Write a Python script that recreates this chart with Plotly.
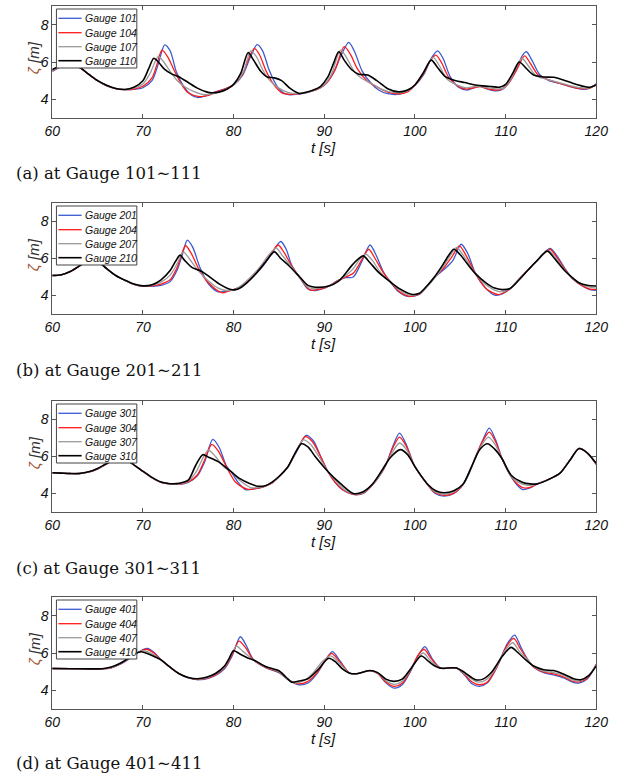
import plotly.graph_objects as go

# ---------------- data ----------------
# Panel (a) gauges 101,104,107,110
a101_t = [60,61,62,63,64,65,66,67,68,69,70,71,71.7,72.4,73,73.7,74.5,75.3,76,77,78,79,80,81,81.8,82.6,83.2,83.9,84.8,85.5,86.2,87,88,89,90,91,91.9,92.7,93.3,94.2,95.2,96,97,98.3,99,100,101,101.8,102.5,103.1,103.9,104.8,105.8,106.5,107.2,108,108.8,109.5,110.3,111.2,111.8,112.3,112.9,113.8,114.8,116,117,118.5,119.3,120]
a101_z = [5.5,5.75,5.85,5.7,5.35,5.0,4.72,4.57,4.52,4.53,4.62,5.0,5.9,6.92,6.6,5.45,4.7,4.25,4.1,4.2,4.4,4.55,4.77,5.3,6.2,6.93,6.6,5.6,4.7,4.35,4.24,4.27,4.35,4.5,4.75,5.4,6.4,7.05,6.6,5.5,4.85,4.5,4.3,4.28,4.4,4.75,5.35,6.2,6.6,6.2,5.2,4.65,4.5,4.62,4.7,4.55,4.46,4.5,4.85,5.6,6.3,6.55,6.1,5.3,5.0,4.85,4.7,4.54,4.6,4.83]
a104_t = [60,61,62,63,64,65,66,67,68,69,70,71,71.5,72.1,72.7,73.4,74.2,75,76.3,77.3,78,79,80,81,81.6,82.3,82.9,83.6,84.5,85.4,86.4,87.5,88.5,89.5,90.3,91.2,92.2,92.9,93.7,94.7,95.7,97,98.3,99.2,100,101,101.6,102.3,102.9,103.7,104.7,105.7,106.5,107.2,108,108.8,109.6,110.4,111.2,112.1,112.7,113.6,114.7,116,117.2,118.5,119.3,120]
a104_z = [5.52,5.76,5.84,5.7,5.35,5.0,4.73,4.57,4.52,4.55,4.7,5.15,5.8,6.63,6.3,5.6,4.85,4.35,4.15,4.22,4.38,4.55,4.78,5.35,6.1,6.73,6.35,5.5,4.75,4.33,4.27,4.32,4.42,4.6,4.9,5.6,6.82,6.4,5.6,5.0,4.7,4.38,4.3,4.4,4.75,5.4,6.0,6.37,6.0,5.2,4.72,4.55,4.62,4.68,4.57,4.5,4.55,4.9,5.55,6.33,5.95,5.3,5.05,4.85,4.68,4.56,4.6,4.8]
a107_t = [60,61,62,63,64,65,66,67,68,69,70,70.8,71.7,72.3,73,73.8,74.7,75.7,76.8,77.8,78.7,79.5,80.3,81.1,81.9,82.5,83.2,84,85,86,87,88,89,90,90.8,91.8,92.5,93.3,94.2,95.2,96.3,97.5,98.3,99.2,100,100.9,102,102.7,103.5,104.5,105.6,106.5,107.3,108.2,109,109.8,110.6,111.8,112.5,113.4,114.5,115.7,117,118.3,119.3,120]
a107_z = [5.55,5.78,5.83,5.71,5.35,5.0,4.74,4.58,4.53,4.6,4.82,5.4,6.3,6.0,5.5,5.0,4.65,4.4,4.25,4.3,4.45,4.62,4.9,5.5,6.6,6.3,5.6,5.0,4.6,4.37,4.3,4.36,4.5,4.78,5.35,6.64,6.2,5.5,5.1,4.85,4.55,4.37,4.35,4.45,4.76,5.38,6.25,5.8,5.1,4.8,4.62,4.68,4.68,4.6,4.56,4.6,5.1,6.2,5.8,5.25,5.08,4.92,4.75,4.62,4.62,4.8]
a110_t = [60,61,62,63,64,65,66,67,68,69,70,70.6,71.2,71.7,72.4,73.2,74,75,76,77,77.6,78.5,79.3,80,80.8,81.6,82.2,83,83.7,84.5,85.3,86.2,87.2,88,88.8,89.6,90.4,91,91.6,92.2,93,93.8,94.8,95.8,97,98.2,99.2,100,100.9,101.8,102.5,103.4,104.5,105.5,106.5,107.5,108.5,109.3,110,110.8,111.5,112.2,113.1,114.2,115.3,116.3,117.4,118.4,119.2,120]
a110_z = [5.6,5.8,5.82,5.72,5.35,5.0,4.75,4.58,4.53,4.65,5.0,5.6,6.2,6.0,5.6,5.35,5.2,4.9,4.6,4.4,4.35,4.4,4.55,4.8,5.4,6.5,6.1,5.5,5.2,5.15,5.0,4.6,4.32,4.38,4.5,4.7,5.2,5.9,6.55,6.1,5.6,5.35,5.3,5.0,4.57,4.4,4.5,4.77,5.4,6.1,5.7,5.2,5.0,4.9,4.78,4.72,4.68,4.65,4.8,5.4,6.0,5.7,5.3,5.2,5.18,5.05,4.86,4.72,4.64,4.77]

# Panel (b) gauges 201,204,207,210
b201_t = [60,61,62,63,64,65,66,67,68,69,70,71,72,73,73.8,74.4,74.9,75.5,76.3,77.2,78.3,79.2,80,81,82,83,84,85.2,85.8,86.4,87.3,88.2,89,90,90.5,91.5,92.3,93.2,94.2,95.05,95.7,96.5,97.3,98.2,99.2,100.5,101.5,102.3,103.2,104.2,105.1,105.8,106.7,107.8,108.8,109.7,110.5,111.5,112.4,113.5,114.9,115.6,116.5,117.4,118.5,119.3,120]
b201_z = [5.08,5.12,5.3,5.6,5.9,5.85,5.45,5.08,4.82,4.6,4.5,4.5,4.55,4.75,5.4,6.3,6.99,6.6,5.5,4.65,4.2,4.25,4.32,4.55,4.95,5.45,6.1,6.92,6.5,5.65,4.96,4.35,4.27,4.4,4.51,4.8,4.96,5.0,5.9,6.73,6.2,5.3,4.73,4.2,3.95,4.07,4.6,5.05,5.4,5.9,6.77,6.3,5.17,4.4,4.02,4.1,4.37,4.9,5.34,5.9,6.55,6.2,5.5,4.9,4.5,4.32,4.28]
b204_t = [60,61,62,63,64,65,66,67,68,69,70,71,72,73,73.8,74.7,75.3,76.2,77.2,78.7,79.5,80.2,81,82,83,84,84.9,85.6,86.4,87.3,88.4,89.3,90.5,91.5,92.3,93.2,94.1,94.9,95.6,96.5,97.3,98.3,99.3,100.5,101.5,102.3,103.2,104.1,104.9,105.6,106.7,107.9,109.2,110.5,111.5,112.4,113.5,114.9,115.6,116.5,117.4,118.5,119.3,120]
b204_z = [5.08,5.12,5.3,5.6,5.9,5.85,5.45,5.08,4.82,4.6,4.5,4.52,4.62,4.85,5.55,6.69,6.3,5.4,4.7,4.15,4.25,4.35,4.55,4.97,5.5,6.15,6.73,6.3,5.6,4.97,4.3,4.32,4.51,4.8,4.98,5.2,5.9,6.5,6.0,5.25,4.73,4.2,3.97,4.07,4.6,5.05,5.5,6.1,6.68,6.2,5.17,4.35,4.05,4.37,4.9,5.34,5.9,6.5,6.1,5.45,4.9,4.52,4.35,4.32]
b207_t = [60,61,62,63,64,65,66,67,68,69,70,71,72,73,73.8,74.45,75.1,76,77.2,78.3,79.2,80.2,81,82,83,83.9,84.7,85.4,86.3,87.3,88.3,89.2,90.5,91.5,92.3,93.2,93.9,94.6,95.3,96.2,97.3,98.3,99.5,100.5,101.5,102.2,103.1,103.9,104.6,105.3,106.7,107.9,109.4,110.5,111.5,112.4,113.5,114.7,115.5,116.5,117.4,118.4,119.3,120]
b207_z = [5.08,5.12,5.3,5.6,5.9,5.85,5.45,5.08,4.82,4.61,4.51,4.55,4.72,5.1,5.75,6.36,6.0,5.4,4.8,4.4,4.27,4.33,4.6,5.05,5.6,6.2,6.56,6.15,5.6,4.98,4.42,4.4,4.51,4.78,5.04,5.45,5.95,6.23,5.9,5.25,4.73,4.3,4.02,4.1,4.55,4.95,5.55,6.15,6.6,6.2,5.17,4.55,4.2,4.38,4.88,5.34,5.9,6.45,6.05,5.4,4.92,4.6,4.45,4.4]
b210_t = [60,61,62,63,64,65,66,67,68,69,70,71,72,73,73.6,74.1,74.6,75.4,76.5,77.5,78.5,79.7,80.5,81.5,82.5,83.5,84.5,85.2,86.1,87.3,88.2,89,90.5,91.5,92.2,93,93.7,94.3,95,96,97.3,98.3,99.6,100.5,101.3,102,103,103.7,104.3,105,105.8,106.7,107.8,108.8,109.6,110.5,111.5,112.4,113.5,114.6,115.4,116.5,117.4,118.1,119,120]
b210_z = [5.08,5.12,5.3,5.6,5.9,5.85,5.45,5.08,4.83,4.62,4.52,4.58,4.85,5.35,5.85,6.18,5.9,5.52,5.3,4.95,4.6,4.32,4.35,4.7,5.2,5.8,6.36,6.0,5.61,5.0,4.55,4.45,4.51,4.75,5.1,5.6,5.95,6.14,5.8,5.25,4.73,4.37,4.07,4.12,4.5,4.9,5.6,6.15,6.5,6.2,5.7,5.17,4.7,4.4,4.32,4.38,4.85,5.34,5.9,6.4,6.0,5.35,4.95,4.69,4.55,4.51]

# Panel (c) gauges 301,304,307,310
c301_t = [60,61,62,63,64,65,66,67,68,69,70,71,72,73,74,75,76,76.8,77.7,78.4,79.2,79.7,80.5,81.3,82.3,83.2,84.2,85,86,87,88,88.8,89.6,90.4,91.2,92,93.2,94.3,95.3,96.1,96.8,97.6,98.3,99,100,101.4,102.2,103.2,104.3,105.3,106,106.7,107.5,108.2,108.9,109.6,110.5,111.2,111.9,112.7,113.5,114.7,116,117.1,118.1,119,120]
c301_z = [5.12,5.1,5.08,5.08,5.15,5.32,5.6,5.85,5.85,5.55,5.2,4.85,4.6,4.52,4.5,4.6,4.95,5.7,6.92,6.5,5.5,5.19,4.6,4.21,4.25,4.35,4.55,4.9,5.45,6.3,7.14,6.85,6.0,5.19,4.6,4.2,3.95,4.0,4.45,4.95,5.54,6.6,7.26,6.7,5.45,4.48,4.02,3.86,4.0,4.48,5.1,5.98,6.9,7.53,6.9,5.89,5.0,4.5,4.21,4.3,4.52,4.75,5.1,5.8,6.43,6.2,5.57]
c304_t = [60,61,62,63,64,65,66,67,68,69,70,71,72,73,74,75,76,76.8,77.6,78.3,79.2,80.2,81.5,82.4,83.2,84.2,85,86,87,87.9,88.7,89.6,90.4,91.2,92,93.2,94.3,95.3,96.1,96.8,97.6,98.3,99,100,101.4,102.2,103.2,104.3,105.3,106,106.7,107.5,108.2,108.9,109.6,110.5,111.2,112,112.8,113.5,114.7,116,117.1,118.1,119,120]
c304_z = [5.12,5.1,5.08,5.08,5.15,5.33,5.6,5.85,5.85,5.55,5.2,4.85,4.6,4.52,4.5,4.62,5.0,5.8,6.66,6.3,5.45,4.62,4.23,4.27,4.35,4.55,4.9,5.45,6.35,7.07,6.8,6.0,5.19,4.6,4.22,3.96,4.02,4.46,4.97,5.56,6.5,7.05,6.6,5.45,4.48,4.05,3.9,4.02,4.48,5.15,6.0,6.85,7.32,6.8,5.89,5.0,4.55,4.3,4.35,4.52,4.75,5.1,5.8,6.43,6.2,5.57]
c307_t = [60,61,62,63,64,65,66,67,68,69,70,71,72,73,74,75,75.9,76.6,77.2,78,79,79.7,80.7,81.9,82.7,83.5,84.2,85,86,86.9,87.7,88.5,89.4,90.4,91.5,92.3,93.2,94.3,95.3,96.2,97.2,98.3,99.1,100,101.4,102.2,103.2,104.3,105.3,106.1,107,108.1,108.9,109.6,110.5,111.4,112.3,113,113.5,114.7,116,117.1,118.1,119,120]
c307_z = [5.12,5.1,5.08,5.08,5.16,5.34,5.61,5.85,5.85,5.55,5.2,4.86,4.61,4.52,4.52,4.67,5.2,5.9,6.35,6.0,5.4,5.19,4.7,4.32,4.33,4.4,4.58,4.91,5.45,6.3,6.9,6.65,6.0,5.19,4.55,4.18,3.98,4.05,4.47,5.05,5.95,6.73,6.35,5.45,4.49,4.1,3.96,4.08,4.49,5.25,6.3,7.05,6.6,5.89,5.0,4.6,4.45,4.45,4.52,4.75,5.1,5.8,6.43,6.2,5.6]
c310_t = [60,61,62,63,64,65,66,67,68,69,70,71,72,73,74,75,75.8,76.6,77.3,78.3,79.7,80.7,81.7,82.7,83.5,84.2,85,86,86.8,87.5,88.2,89,90.4,91.8,93.2,94.3,95.3,96.3,97.3,98.4,99.2,100,101.4,102.3,103.2,104.3,105.3,106.2,107.2,108,108.8,109.6,110.6,111.9,112.7,113.5,114.7,116,117.1,118.1,119,120]
c310_z = [5.12,5.1,5.08,5.08,5.17,5.35,5.62,5.85,5.85,5.55,5.2,4.87,4.62,4.53,4.55,4.72,5.5,6.1,5.95,5.72,5.19,4.8,4.55,4.39,4.42,4.6,4.92,5.45,6.2,6.69,6.52,6.0,5.19,4.53,4.0,4.1,4.5,5.2,5.95,6.37,6.1,5.45,4.5,4.15,4.04,4.15,4.5,5.4,6.4,6.69,6.4,5.89,5.0,4.6,4.52,4.52,4.75,5.1,5.8,6.43,6.2,5.63]

# Panel (d) gauges 401,404,407,410
d401_t = [60,62,64,65.5,66.5,67.5,68.5,69.5,70.5,71.3,72,73,74,75,76,77,78,79,79.8,80.75,81.4,82.2,83.6,85,86.2,87.2,88.2,89.2,90.1,90.9,91.7,92.8,93.6,95,95.9,96.8,97.7,98.6,99.5,100.4,101.1,101.9,102.8,104.6,105.5,106.3,107.1,108,109,110.2,111,111.7,112.5,113.1,114.2,115.3,116.5,117.3,118.1,119,120]
d401_z = [5.17,5.16,5.15,5.15,5.2,5.4,5.7,6.05,6.25,6.0,5.63,5.24,4.89,4.67,4.57,4.62,4.8,5.15,5.8,6.87,6.4,5.63,5.2,4.95,4.5,4.3,4.39,4.9,5.6,6.07,5.6,4.92,4.89,5.06,4.9,4.4,4.12,4.3,5.0,5.9,6.34,5.7,5.19,5.19,4.8,4.35,4.21,4.4,5.2,6.5,6.96,6.3,5.6,5.24,4.95,4.83,4.65,4.45,4.39,4.6,5.4]
d404_t = [60,62,64,65.5,66.5,67.5,68.5,69.5,70.4,71.2,72,73,74,75,76,77,78,79,79.8,80.6,81.3,82.2,83.6,85,86.1,87,88.1,89.2,90.1,90.8,91.6,92.8,93.6,95,95.9,96.8,97.7,98.6,99.5,100.3,101,101.8,102.8,104.6,105.5,106.3,107.1,108,109,110.1,110.9,111.6,112.5,113.1,114.2,115.3,116.5,117.3,118.1,119,120]
d404_z = [5.17,5.16,5.15,5.15,5.21,5.41,5.71,6.04,6.2,6.0,5.63,5.24,4.89,4.68,4.58,4.64,4.83,5.2,5.85,6.64,6.3,5.63,5.22,4.97,4.55,4.35,4.45,4.95,5.6,5.98,5.6,4.92,4.89,5.06,4.9,4.45,4.21,4.38,5.05,5.85,6.2,5.7,5.19,5.19,4.83,4.45,4.3,4.45,5.2,6.35,6.78,6.25,5.6,5.24,4.98,4.88,4.7,4.5,4.45,4.65,5.38]
d407_t = [60,62,64,65.5,66.5,67.5,68.5,69.4,70.1,71,72,73,74,75,76,77,78,79,79.6,80.3,81,82.2,83.6,85,85.9,86.7,87.7,88.8,89.8,90.7,91.5,92.8,93.6,95,95.9,96.8,97.7,98.6,99.5,100.9,101.7,102.8,104.6,105.5,106.9,107.8,108.8,109.9,110.8,111.5,112.5,113.1,114.2,115.3,116.5,117.3,118.1,119,120]
d407_z = [5.17,5.16,5.15,5.15,5.22,5.43,5.73,6.02,6.12,5.95,5.63,5.24,4.89,4.68,4.6,4.67,4.87,5.25,5.75,6.37,6.1,5.63,5.24,5.0,4.62,4.4,4.5,4.95,5.55,5.85,5.55,4.92,4.89,5.06,4.92,4.52,4.32,4.48,5.1,6.0,5.6,5.19,5.2,4.88,4.45,4.55,5.1,6.1,6.55,6.1,5.6,5.27,5.03,4.95,4.78,4.57,4.5,4.7,5.35]
d410_t = [60,62,64,65.5,66.5,67.5,68.5,69.2,69.8,70.6,71.3,72,73,74,75,76,77,78,79,79.5,80,80.7,81.5,82.2,83.6,85,85.8,86.4,87.2,88.2,89.3,90.5,91.3,92,92.8,93.6,95,95.9,96.8,97.7,98.6,99.6,100.7,101.5,102.2,102.8,104.6,105.5,106.7,107.5,108.5,109.6,110.6,111.4,112.3,113.1,114.2,115.3,116.5,117.5,118.3,119.2,120]
d410_z = [5.17,5.16,5.15,5.16,5.25,5.45,5.75,5.98,6.07,5.95,5.8,5.63,5.24,4.89,4.69,4.62,4.7,4.9,5.3,5.7,6.12,5.95,5.75,5.63,5.26,5.05,4.7,4.44,4.5,4.62,5.1,5.72,5.5,5.15,4.92,4.89,5.06,4.95,4.6,4.48,4.6,5.2,5.84,5.55,5.3,5.19,5.2,4.95,4.57,4.6,5.0,5.8,6.3,6.0,5.6,5.3,5.1,5.06,4.85,4.62,4.57,4.8,5.31]

x_ticks = [60, 70, 80, 90, 100, 110, 120]
y_ticks = [4, 6, 8]
captions = ["(a) at Gauge 101∼111", "(b) at Gauge 201∼211",
            "(c) at Gauge 301∼311", "(d) at Gauge 401∼411"]

panels = [
    [("Gauge 101", a101_t, a101_z), ("Gauge 104", a104_t, a104_z),
     ("Gauge 107", a107_t, a107_z), ("Gauge 110", a110_t, a110_z)],
    [("Gauge 201", b201_t, b201_z), ("Gauge 204", b204_t, b204_z),
     ("Gauge 207", b207_t, b207_z), ("Gauge 210", b210_t, b210_z)],
    [("Gauge 301", c301_t, c301_z), ("Gauge 304", c304_t, c304_z),
     ("Gauge 307", c307_t, c307_z), ("Gauge 310", c310_t, c310_z)],
    [("Gauge 401", d401_t, d401_z), ("Gauge 404", d404_t, d404_z),
     ("Gauge 407", d407_t, d407_z), ("Gauge 410", d410_t, d410_z)],
]

# ---------------- styling / layout ----------------
W, H = 637, 776
colors = ["#3a5bd0", "#ff1a1a", "#9a9a9a", "#000000"]
widths = [1.3, 1.3, 1.3, 1.6]
boxes = [(6, 118), (203, 314), (401, 512), (597, 709)]  # plot top/bottom in px
caption_y = [173, 370, 568, 763]
x_left, x_right = 45.7, 607.3
# legend geometry (px, relative to plot top / page left)
leg_x0, leg_x1 = 50, 133
leg_dy0, leg_dy1 = 3, 62
leg_rows = [12.3, 26.7, 40.7, 54.7]
leg_line = (52, 76)
leg_text_x = 77

sans = "Liberation Sans, Arial, sans-serif"
fig = go.Figure()
layout = dict(width=W, height=H, margin=dict(l=0, r=0, t=0, b=0),
              paper_bgcolor="white", plot_bgcolor="white", showlegend=False,
              annotations=[], shapes=[])


def px(x):
    return x / W


def py(y):
    return 1 - y / H


for i, series in enumerate(panels):
    ax = "" if i == 0 else str(i + 1)
    for j, (name, t, z) in enumerate(series):
        fig.add_trace(go.Scatter(
            x=t, y=z, name=name, mode="lines",
            line=dict(color=colors[j], width=widths[j], shape="spline", smoothing=0.8),
            xaxis="x" + ax, yaxis="y" + ax))
    top, bot = boxes[i]
    axis_common = dict(showline=True, linecolor="#555555", linewidth=1, mirror="ticks",
                       ticks="inside", ticklen=4, tickcolor="#555555", showgrid=False,
                       zeroline=False,
                       tickfont=dict(family=sans, size=14, color="#111", style="italic"))
    layout["xaxis" + ax] = dict(axis_common, domain=[px(x_left), px(x_right)],
                                range=[60, 120], tickvals=x_ticks, anchor="y" + ax)
    layout["yaxis" + ax] = dict(axis_common, domain=[py(bot), py(top)],
                                range=[3, 9], tickvals=y_ticks, anchor="x" + ax)
    # legend box drawn by hand (to match compact row spacing)
    layout["shapes"].append(dict(
        type="rect", xref="paper", yref="paper", layer="above",
        x0=px(leg_x0), x1=px(leg_x1), y0=py(top + leg_dy1), y1=py(top + leg_dy0),
        fillcolor="white", line=dict(color="#444444", width=1)))
    for j, (name, _, _) in enumerate(series):
        yy = py(top + leg_rows[j])
        layout["shapes"].append(dict(
            type="line", xref="paper", yref="paper", layer="above",
            x0=px(leg_line[0]), x1=px(leg_line[1]), y0=yy, y1=yy,
            line=dict(color=colors[j], width=widths[j])))
        layout["annotations"].append(dict(
            text=name, xref="paper", yref="paper", x=px(leg_text_x), y=yy,
            xanchor="left", yanchor="middle", showarrow=False,
            font=dict(family=sans, size=10.5, color="#111", style="italic")))
    # axis titles and caption
    layout["annotations"].append(dict(
        text="t [s]", xref="paper", yref="paper", x=px(326), y=py(bot + 29),
        xanchor="center", yanchor="middle", showarrow=False,
        font=dict(family=sans, size=15, color="#111", style="italic")))
    layout["annotations"].append(dict(
        text="<span style='color:#a0522d'>ζ</span> [m]", xref="paper", yref="paper",
        x=px(27), y=py(top + 52), xanchor="center", yanchor="middle",
        textangle=-90, showarrow=False,
        font=dict(family=sans, size=15, color="#333", style="italic")))
    layout["annotations"].append(dict(
        text=captions[i], xref="paper", yref="paper", x=px(6), y=py(caption_y[i]),
        xanchor="left", yanchor="middle", showarrow=False,
        font=dict(family="DejaVu Serif, serif", size=16.5, color="#111")))

fig.update_layout(**layout)
fig.write_html("out.html", config={"displayModeBar": False},
               post_script="document.body.style.margin='0';")
